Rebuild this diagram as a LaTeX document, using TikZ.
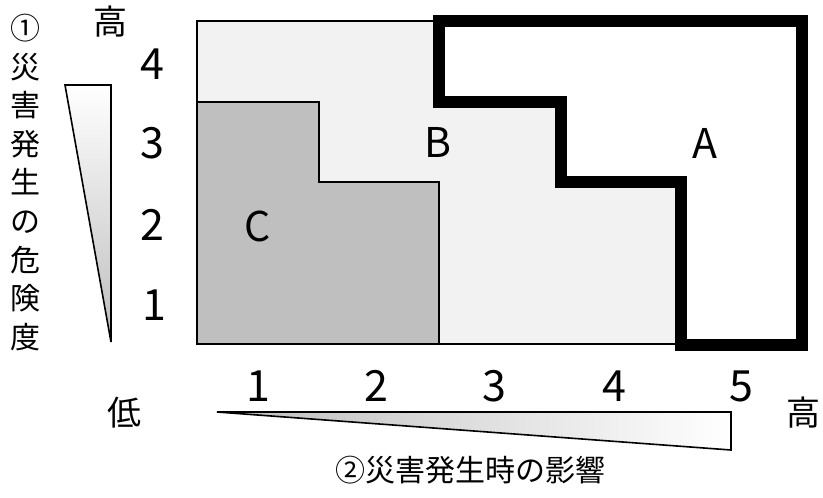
\documentclass[tikz,border=0pt]{standalone}
\usepackage{fontspec}
\setmainfont{DejaVu Sans}
\newfontfamily\cjk{Noto Sans CJK JP}
\definecolor{lightfill}{HTML}{F2F2F2}
\definecolor{midfill}{HTML}{BFBFBF}
\definecolor{shadegray}{HTML}{BDBDBD}
\tikzset{
  thinedge/.style={draw=black, line width=2pt},
  thickedge/.style={draw=black, line width=12pt, line join=miter},
  numlabel/.style={inner sep=0pt, font=\cjk\fontsize{43}{50}\selectfont},
  zonelabel/.style={inner sep=0pt, font=\cjk\fontsize{41}{48}\selectfont},
  cjklabel/.style={inner sep=0pt, font=\cjk\fontsize{34}{40}\selectfont},
  wedge/.style={draw=black, line width=1.6pt, line join=miter}
}
\begin{document}
\begin{tikzpicture}[x=1pt, y=-1pt]
\useasboundingbox (0,0) rectangle (823,498);
% matrix background (zone B)
\path[fill=lightfill, thinedge] (197,21) rectangle (681,344);
% zone C
\path[fill=midfill, thinedge] (197,102) -- (319,102) -- (319,182) -- (439,182) -- (439,344) -- (197,344) -- cycle;
% zone A
\path[fill=white, thickedge] (439,21) -- (802,21) -- (802,345) -- (681,345) -- (681,182) -- (561,182) -- (561,101.5) -- (439,101.5) -- cycle;
% zone labels
\node[zonelabel] (zA) at (705,143) {A};
\node[zonelabel] (zB) at (438,142) {B};
\node[zonelabel] (zC) at (258,226) {C};
% vertical axis numbers
\node[numlabel] (v4) at (152,64) {4};
\node[numlabel] (v3) at (152,143) {3};
\node[numlabel] (v2) at (152,225) {2};
\node[numlabel] (v1) at (154,305) {1};
% horizontal axis numbers
\node[numlabel] (h1) at (258,386) {1};
\node[numlabel] (h2) at (376,386) {2};
\node[numlabel] (h3) at (494,386) {3};
\node[numlabel] (h4) at (614,386) {4};
\node[numlabel] (h5) at (741,386) {5};
% high / low labels
\node[cjklabel] (hiTop) at (110,22) {高};
\node[cjklabel] (loBot) at (124,413) {低};
\node[cjklabel] (hiRight) at (803,413) {高};
% wedges
\shade[top color=white, bottom color=shadegray] (65,85) -- (111,85) -- (111,342) -- cycle;
\draw[wedge] (65,85) -- (111,85) -- (111,342) -- cycle;
\shade[left color=shadegray, right color=white] (217,412) -- (731,412) -- (731,450) -- cycle;
\draw[wedge] (217,412) -- (731,412) -- (731,450) -- cycle;
% axis titles
\node[inner sep=0pt, anchor=center, align=center, font=\cjk\fontsize{30}{38.6}\selectfont] (vtitle) at (25,182.5) {①\\災\\害\\発\\生\\の\\危\\険\\度};
\node[inner sep=0pt, font=\cjk\fontsize{30}{34}\selectfont] (htitle) at (470,470) {②災害発生時の影響};
\end{tikzpicture}
\end{document}
